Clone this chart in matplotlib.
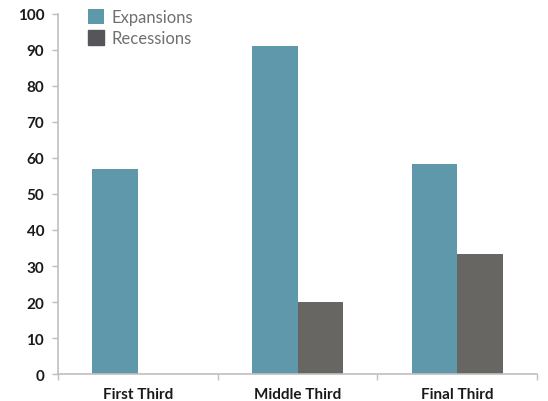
import numpy as np
import matplotlib.pyplot as plt

categories = ["First Third", "Middle Third", "Final Third"]
expansions = [57, 91, 58.3]
recessions = [0, 20, 33.3]

plt.rcParams['font.family'] = ['Lato', 'DejaVu Sans']

fig = plt.figure(figsize=(5.48, 4.02), dpi=100)
ax = fig.add_axes([0.106, 0.067, 0.874, 0.896])

x = np.arange(len(categories))
w = 0.286
ax.bar(x - w / 2, expansions, w, color='#5F98AB', label='Expansions')
ax.bar(x + w / 2, recessions, w, color='#686662', label='Recessions')

ax.set_xlim(-0.5, 2.5)
ax.set_ylim(0, 100)
ax.set_yticks(range(0, 101, 10))
ax.tick_params(axis='y', labelsize=11, colors='#BFBFBF', labelcolor='#1a1a1a',
               length=4, width=1, pad=6)
for t in ax.get_yticklabels():
    t.set_fontweight('bold')

# category labels centred, ticks at the group boundaries
ax.set_xticks(x)
ax.set_xticklabels(categories, fontsize=11, fontweight='bold', color='#1a1a1a')
ax.tick_params(axis='x', length=0, pad=9)
ax.set_xticks([-0.5, 0.5, 1.5, 2.5], minor=True)
ax.tick_params(axis='x', which='minor', length=4, colors='#BFBFBF', width=1)

for side in ['top', 'right']:
    ax.spines[side].set_visible(False)
for side in ['left', 'bottom']:
    ax.spines[side].set_color('#BFBFBF')
    ax.spines[side].set_linewidth(1.2)

leg = ax.legend(loc='upper left', bbox_to_anchor=(0.16, 0.975), bbox_transform=fig.transFigure,
                frameon=False, fontsize=12, handlelength=1.0, handleheight=1.0,
                handletextpad=0.4, labelspacing=0.3, borderpad=0, borderaxespad=0)
for t in leg.get_texts():
    t.set_color('#707070')
leg.legend_handles[1].set_color('#56555A')

fig.savefig('out.png', dpi=100)
